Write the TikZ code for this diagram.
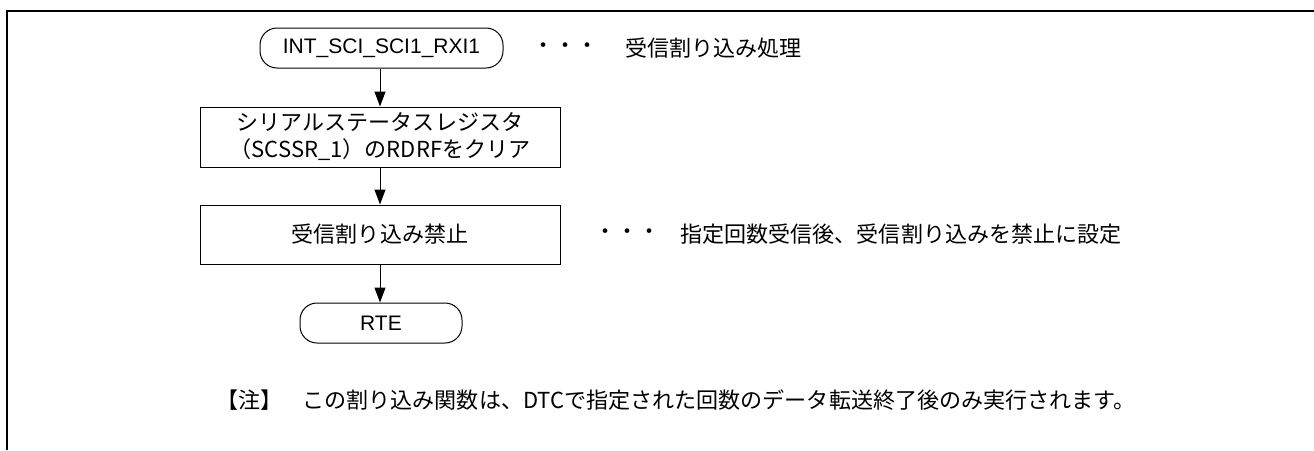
\documentclass[tikz,border=0pt]{standalone}
\usepackage{fontspec}
\setmainfont{Liberation Sans}
\newfontfamily\jp{Noto Sans CJK JP}[Scale=1.05]
\usetikzlibrary{arrows.meta}
\begin{document}
\begin{tikzpicture}[x=1pt,y=-1pt,
  base/.style={font=\fontsize{21}{29}\selectfont, inner sep=0pt, line width=1pt},
  term/.style={base, draw, rounded corners=17pt, minimum height=40pt},
  proc/.style={base, draw, minimum width=360pt, align=center},
  side/.style={base, anchor=west},
  flow/.style={line width=1pt, -{Triangle[length=15pt,width=11pt]}}
]
\useasboundingbox (0,0) rectangle (1314,450);
\draw[line width=2pt] (7,450) -- (7,11) -- (1314,11);

\node[term, minimum width=243pt] (start) at (381.5,48) {INT\_SCI\_SCI1\_RXI1};
\node[proc, minimum height=60pt] (clr) at (380,137) {\jp{シリアルステータスレジスタ}\\[-2pt]\jp{（}SCSSR\_1\jp{）の}RDRF\jp{をクリア}};
\node[proc, minimum height=59pt] (dis) at (380,234.5) {\jp{受信割り込み禁止}};
\node[term, minimum width=162pt] (rte) at (381,323) {RTE};

\draw[flow] (start.south -| clr.north) -- (clr.north);
\draw[flow] (clr) -- (dis);
\draw[flow] (dis.south) -- (dis.south |- rte.north);

\node[side] (d1) at (532,48) {\jp{・・・}};
\node[side] (t1) at (625,48) {\jp{受信割り込み処理}};
\node[side] (d2) at (594,234.5) {\jp{・・・}};
\node[side] (t2) at (680,234.5) {\jp{指定回数受信後、受信割り込みを禁止に設定}};

\node[base, anchor=east] (note) at (1136,400) {\jp{【注】}\hspace{0.9em}\jp{この割り込み関数は、DTCで指定された回数のデータ転送終了後のみ実行されます。}};
\end{tikzpicture}
\end{document}
